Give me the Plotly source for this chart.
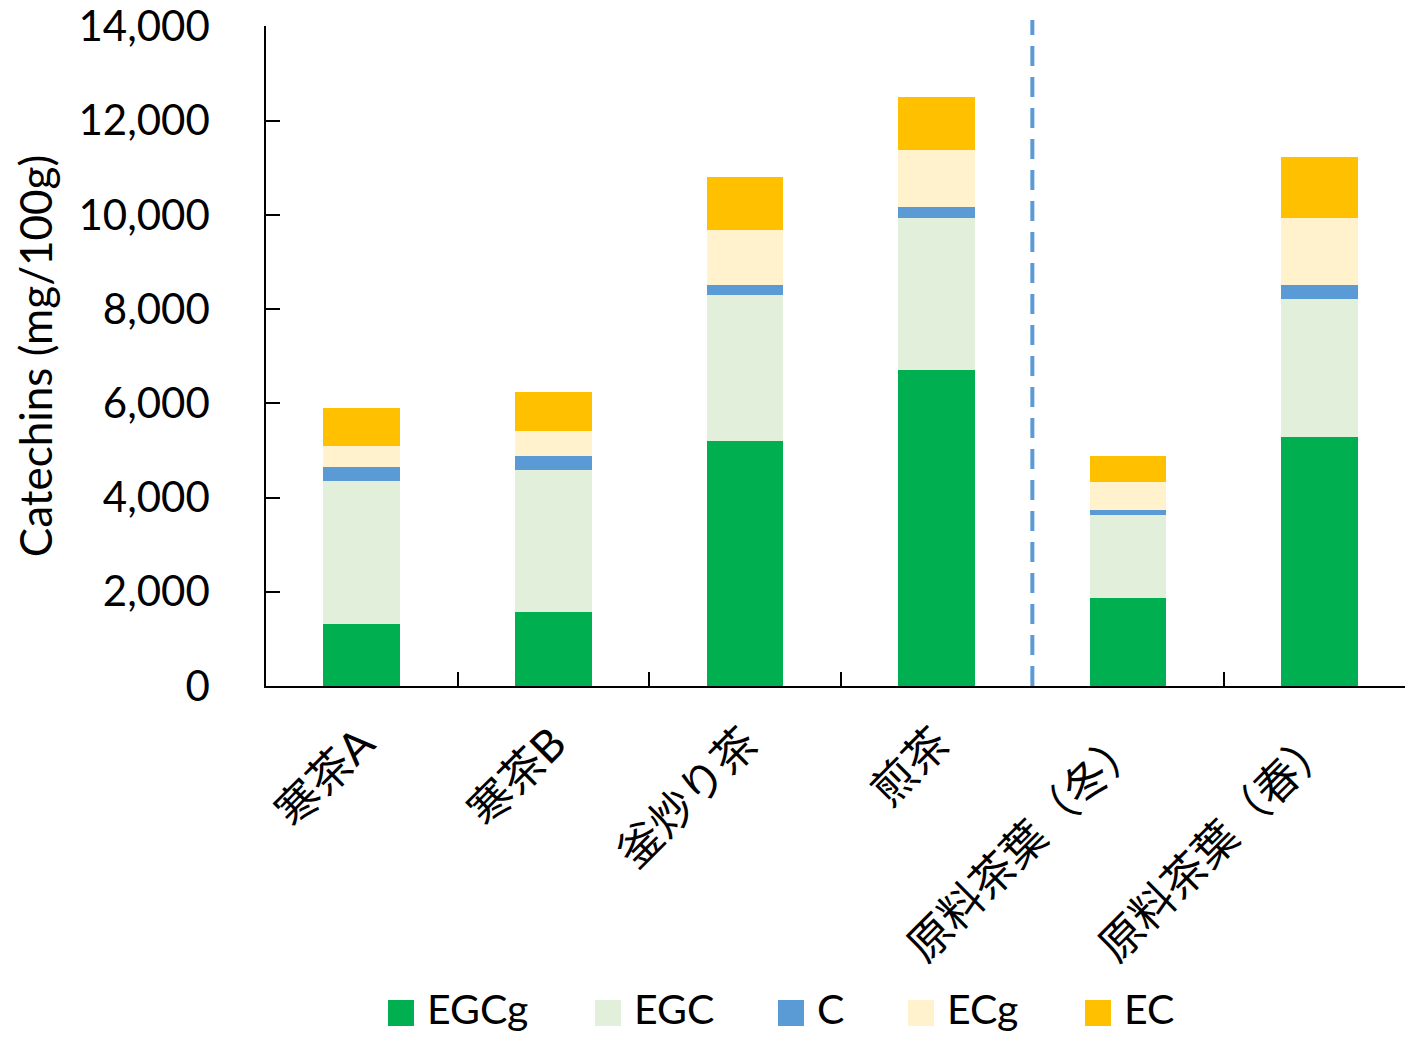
import plotly.graph_objects as go

# Catechin composition per tea sample (mg/100g)
categories = ["寒茶A", "寒茶B", "釜炒り茶", "煎茶", "原料茶葉（冬）", "原料茶葉（春）"]
egcg = [1310, 1580, 5200, 6700, 1870, 5290]
egc = [3045, 3005, 3095, 3230, 1770, 2920]
c = [285, 295, 210, 235, 100, 310]
ecg = [445, 535, 1180, 1210, 580, 1420]
ec = [815, 835, 1130, 1125, 560, 1285]

series_names = ["EGCg", "EGC", "C", "ECg", "EC"]
series_values = [egcg, egc, c, ecg, ec]
series_colors = ["#00B050", "#E2EFDA", "#5B9BD5", "#FFF2CC", "#FFC000"]

y_ticks = [0, 2000, 4000, 6000, 8000, 10000, 12000, 14000]

FONT = "Lato, 'Noto Sans CJK JP', sans-serif"

# figure geometry (px)
W, H = 1405, 1037
ML, MR, MT, MB = 266, 0, 26, 351
PW, PH = W - ML - MR, H - MT - MB


def px_x(px):
    return (px - ML) / PW


def px_y(py):
    return (H - MB - py) / PH


fig = go.Figure()

for name, vals, col in zip(series_names, series_values, series_colors):
    fig.add_trace(go.Bar(
        x=categories, y=vals, name=name,
        marker=dict(color=col, line=dict(width=0)),
        width=0.4, showlegend=False,
    ))

# dashed divider between processed teas and raw leaves
fig.add_shape(
    type="line", xref="x", yref="paper",
    x0=3.5, x1=3.5, y0=0, y1=px_y(20),
    line=dict(color="#5B9BD5", width=4, dash="20px,11px"),
)

# legend row: square swatch followed by the series name
legend_left = [388, 595, 778, 908, 1085]
swatch = 26
legend_cy = 1013
for name, col, lx in zip(series_names, series_colors, legend_left):
    fig.add_shape(
        type="rect", xref="paper", yref="paper",
        x0=px_x(lx), x1=px_x(lx + swatch),
        y0=px_y(legend_cy + swatch / 2), y1=px_y(legend_cy - swatch / 2),
        line=dict(width=0), fillcolor=col,
    )
    fig.add_annotation(
        xref="paper", yref="paper",
        x=px_x(lx + swatch + 11), y=px_y(legend_cy - 4),
        xanchor="left", yanchor="middle",
        text=name, showarrow=False,
        font=dict(family=FONT, size=41, color="black"),
    )

fig.update_layout(
    width=W, height=H,
    margin=dict(l=ML, r=MR, t=MT, b=MB),
    barmode="stack",
    plot_bgcolor="white", paper_bgcolor="white",
    font=dict(family=FONT, size=42, color="black"),
    showlegend=False,
    xaxis=dict(
        range=[-0.5, 5.445],
        automargin=False,
        showline=True, linecolor="black", linewidth=2,
        ticks="inside", ticklen=14, tickcolor="black", tickwidth=1.5,
        tickson="boundaries",
        tickangle=-45,
        tickfont=dict(family=FONT, size=44, color="black"),
        ticklabelstandoff=12,
        showgrid=False, zeroline=False,
    ),
    yaxis=dict(
        range=[0, 14010],
        automargin=False,
        tickvals=y_ticks,
        tickformat=",d",
        showline=True, linecolor="black", linewidth=1.5,
        ticks="inside", ticklen=14, tickcolor="black", tickwidth=1.5,
        tickfont=dict(family=FONT, size=42, color="black"),
        ticklabelstandoff=46,
        showgrid=False, zeroline=False,
        title=dict(text="Catechins (mg/100g)", font=dict(family=FONT, size=44, color="black"), standoff=12),
    ),
)

fig.write_html("out.html")
